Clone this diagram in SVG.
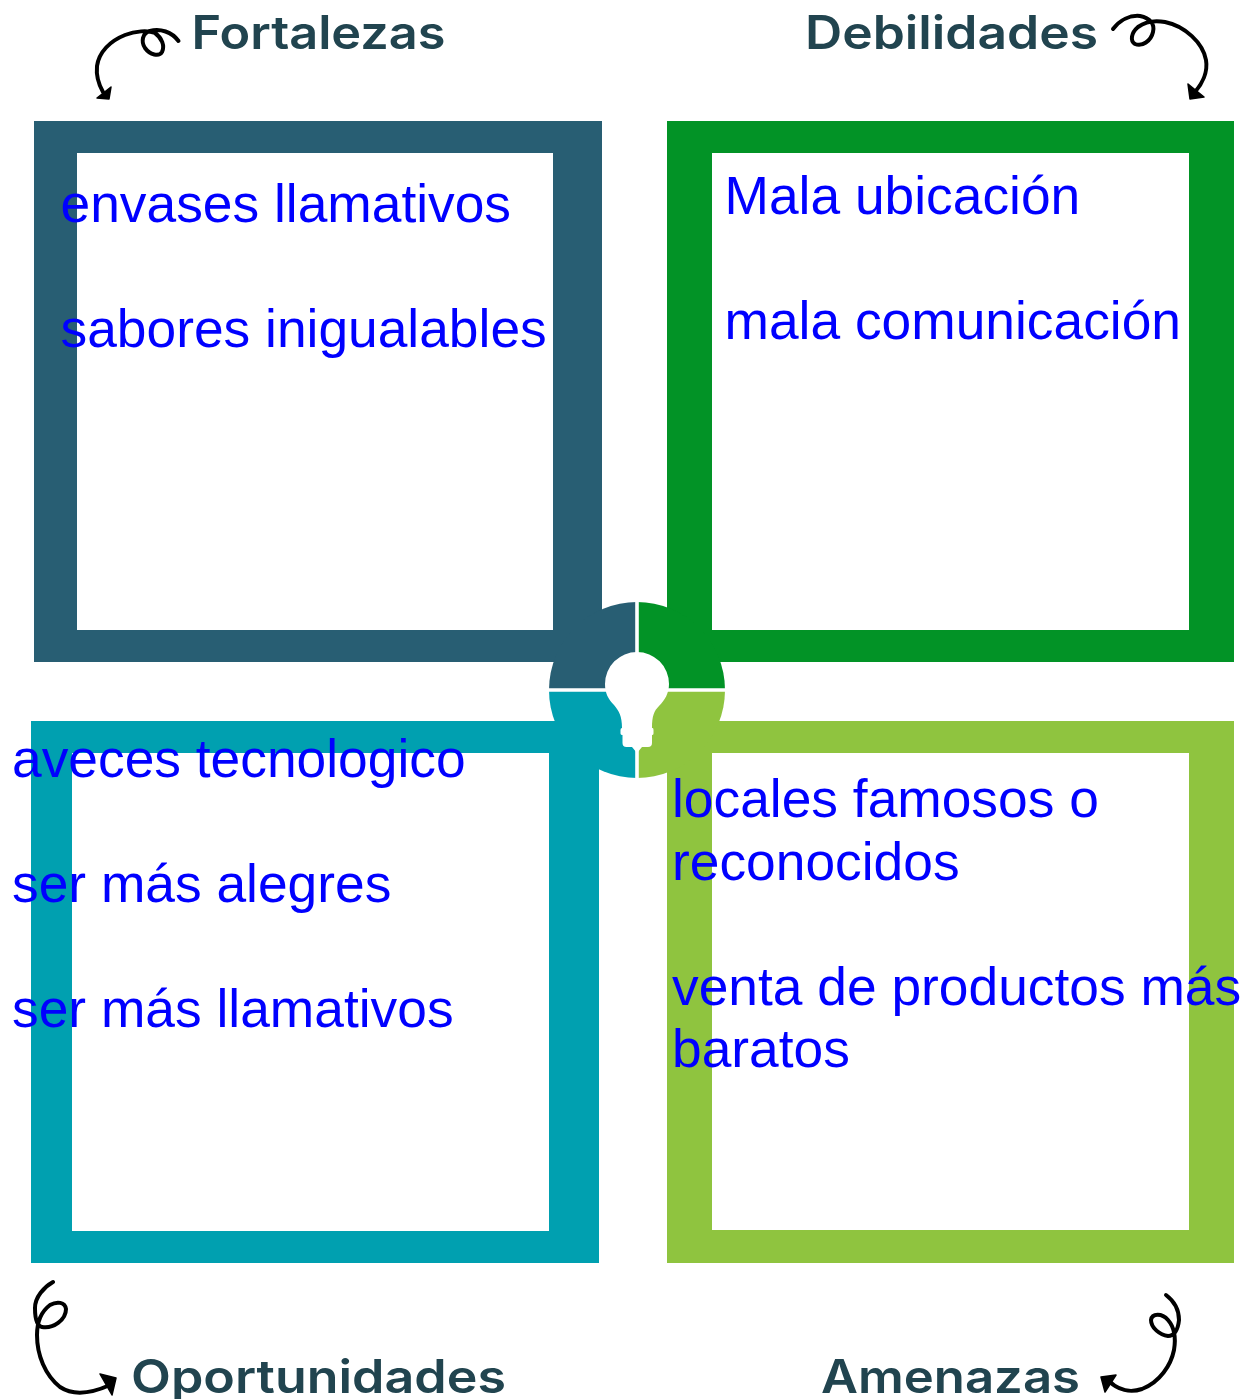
<svg xmlns="http://www.w3.org/2000/svg" width="1254" height="1399" viewBox="0 0 1254 1399">
<style>
.body{font-family:"Liberation Sans",Arial,sans-serif;font-size:53.33px;fill:#0000ff}
.head{font-family:Inter,"Noto Sans",sans-serif;font-size:46px;font-weight:600;fill:#21444f}
.curl{fill:none;stroke:#000;stroke-width:4;stroke-linecap:round;stroke-linejoin:round}
.tip{fill:#000;stroke:#000;stroke-width:1.500;stroke-linejoin:round}
.frame{fill-rule:evenodd}
</style>
<rect width="1254" height="1399" fill="#fff"/>
<g id="fortalezas">
<path class="frame" fill="#285e73" d="M34 121H602V662H34ZM77 153V630H553V153Z"/>
<path fill="#285e73" d="M637 690V602A88 88 0 0 0 549 690Z"/>
</g>
<g id="debilidades">
<path class="frame" fill="#029326" d="M667 121H1234V662H667ZM712 153V630H1189V153Z"/>
<path fill="#029326" d="M637 690V602A88 88 0 0 1 725 690Z"/>
</g>
<g id="oportunidades">
<path class="frame" fill="#00a0b0" d="M31 721H599V1263H31ZM72 753V1231H549V753Z"/>
<path fill="#00a0b0" d="M637 690V778A88 88 0 0 1 549 690Z"/>
</g>
<g id="amenazas">
<path class="frame" fill="#8fc43f" d="M667 721H1234V1263H667ZM712 753V1230H1189V753Z"/>
<path fill="#8fc43f" d="M637 690V778A88 88 0 0 0 725 690Z"/>
</g>
<g id="hub">
<path d="M637 598V782M545 690H729" stroke="#fff" stroke-width="3.6" fill="none"/>
<path fill="#fff" d="M637 652A32 32 0 0 1 669 684C669 693 665 700 659 706C654 711 652 716 652 728H652.500Q653.500 728 653.500 730V733.500Q653.500 735 652 735V743Q652 747 648 747H642L637 753L632 747H626.500Q622.500 747 622.500 743V735Q620.500 735 620.500 733.500V730Q620.500 728 622 728C622 716 619 711 614 705C608 699 605 693 605 684A32 32 0 0 1 637 652Z"/>
</g>
<g id="connectors">
<path class="curl" d="M178.500 41C172 32 160 28 150 31C142 33 141 42 145 48C150 55 159 57 162 52C165 46 162 38 155 33C148 30 135 31 125 35C110 41 99 52 97 66C96 76 99 85 103 92"/>
<path class="tip" d="M97 98L111 87L109 99Z"/>
<path class="curl" d="M1113 29C1120 20 1130 15 1140 16C1150 18 1155 24 1153 32C1151 41 1142 47 1135 44C1130 41 1131 33 1138 27C1145 22 1155 20 1165 22C1185 26 1203 43 1206 60C1208 72 1202 84 1195 92"/>
<path class="tip" d="M1188 84L1204 97L1190 99Z"/>
<path class="curl" d="M53 1282C44 1287 35 1297 35 1308C35 1318 37 1326 42 1327C53 1329 66 1320 66 1309C65 1302 57 1301 50 1305C42 1311 37 1320 37 1335C37 1355 45 1375 60 1387C72 1395 90 1394 110 1385"/>
<path class="tip" d="M100 1374L116 1378L112 1395Z"/>
<path class="curl" d="M1166 1295C1174 1301 1179 1310 1179 1320C1178 1330 1174 1336 1168 1336C1160 1335 1151 1328 1151 1320C1152 1313 1162 1313 1168 1320C1175 1328 1176 1338 1174 1350C1171 1365 1160 1382 1142 1389C1130 1393 1118 1390 1109 1381"/>
<path class="tip" d="M1101 1377L1116 1375L1105 1392Z"/>
</g>
<g id="labels">
<text class="head" x="191.500" y="49" textLength="254" lengthAdjust="spacingAndGlyphs">Fortalezas</text>
<text class="head" x="805" y="49" textLength="293" lengthAdjust="spacingAndGlyphs">Debilidades</text>
<text class="head" x="131" y="1393" textLength="375" lengthAdjust="spacingAndGlyphs">Oportunidades</text>
<text class="head" x="821" y="1393" textLength="259" lengthAdjust="spacingAndGlyphs">Amenazas</text>
<text class="body" x="60.500" y="222">envases llamativos</text>
<text class="body" x="60.500" y="347">sabores inigualables</text>
<text class="body" x="724.500" y="214">Mala ubicación</text>
<text class="body" x="724.500" y="339">mala comunicación</text>
<text class="body" x="12" y="777">aveces tecnologico</text>
<text class="body" x="12" y="902">ser más alegres</text>
<text class="body" x="12" y="1027">ser más llamativos</text>
<text class="body" x="672" y="817">locales famosos o</text>
<text class="body" x="672" y="879.500">reconocidos</text>
<text class="body" x="672" y="1004.500">venta de productos más</text>
<text class="body" x="672" y="1067">baratos</text>
</g>
</svg>
